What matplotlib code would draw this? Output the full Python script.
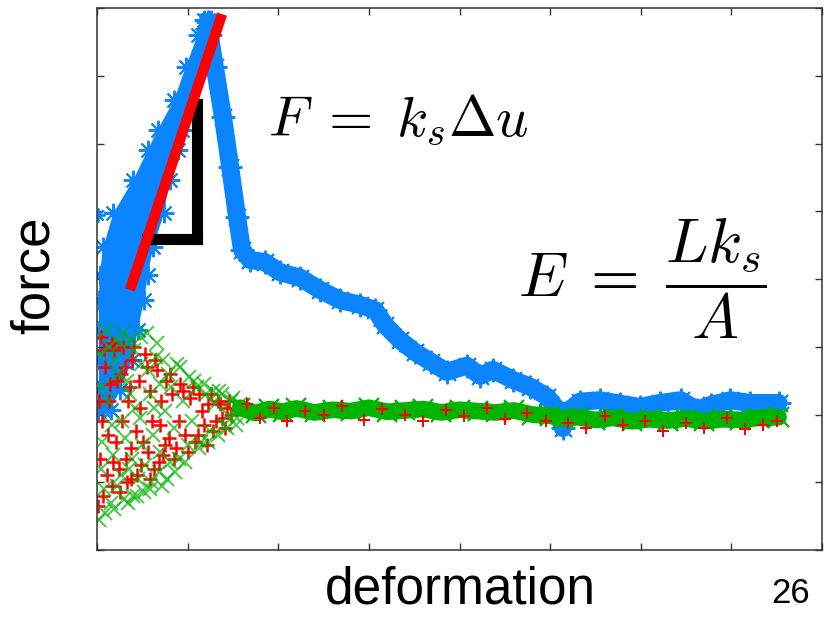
import matplotlib
matplotlib.use('Agg')
import matplotlib.pyplot as plt

plt.rcParams['mathtext.fontset'] = 'cm'

# rising part of the first curve: height levels and the left / middle / right edge of the cloud
rise_y = [7.82, 7.60, 7.13, 6.64, 6.20, 5.90, 5.46, 4.97, 4.47, 4.06, 3.69, 3.25, 2.80, 2.36, 2.07]
rise_left = [1.18, 1.11, 0.98, 0.85, 0.67, 0.56, 0.40, 0.18, 0.07, 0.03, 0.02, 0.02, 0.02, 0.02, 0.01]
rise_mid = [1.22, 1.16, 1.07, 0.94, 0.80, 0.72, 0.60, 0.46, 0.34, 0.29, 0.27, 0.23, 0.20, 0.13, 0.07]
rise_right = [1.26, 1.27, 1.18, 1.03, 0.94, 0.89, 0.80, 0.74, 0.62, 0.56, 0.52, 0.45, 0.39, 0.25, 0.15]
stray_x = [0.01]
stray_y = [4.94]

# after the peak
fall_x = [1.22, 1.30, 1.39, 1.47, 1.545, 1.60, 1.69, 1.85, 2.02, 2.24, 2.46, 2.68, 2.90,
          3.07, 3.18, 3.34, 3.51, 3.68, 3.86, 4.08, 4.23, 4.37, 4.59, 4.78, 4.97, 5.08,
          5.14, 5.22, 5.33, 5.55, 5.77, 5.99, 6.21, 6.44, 6.62, 6.77, 6.99, 7.21, 7.52]
fall_y = [7.80, 7.13, 6.39, 5.65, 4.92, 4.43, 4.28, 4.25, 4.10, 4.02, 3.84, 3.69, 3.62,
          3.54, 3.32, 3.10, 2.92, 2.78, 2.63, 2.72, 2.57, 2.66, 2.51, 2.41, 2.26, 2.07,
          1.80, 2.07, 2.19, 2.21, 2.16, 2.11, 2.17, 2.21, 2.07, 2.14, 2.21, 2.17, 2.17]

# the two other series, scattered at the start
red_cone_x = [0.01, 0.04, 0.06, 0.09, 0.11, 0.14, 0.16, 0.19, 0.21, 0.24, 0.27, 0.29, 0.32, 0.34,
              0.37, 0.39, 0.43, 0.46, 0.49, 0.53, 0.56, 0.59, 0.63, 0.66, 0.69, 0.73, 0.76, 0.79,
              0.83, 0.87, 0.92, 0.97, 1.03, 1.08, 1.13, 1.18, 1.23, 1.28, 1.33, 1.38, 1.43, 1.48,
              0.02, 0.03, 0.07, 0.08, 0.12, 0.13, 0.17, 0.18, 0.22, 0.25, 0.28, 0.31, 0.33, 0.36,
              0.38, 0.41, 0.44, 0.47, 0.51, 0.55, 0.58, 0.61, 0.64, 0.68, 0.71, 0.75, 0.81, 0.85,
              0.90, 0.95, 1.00, 1.06, 1.11, 1.16, 1.21, 1.26, 1.31, 1.36, 1.41, 1.46]
red_cone_y = [0.65, 3.15, 1.9, 2.7, 1.1, 2.45, 0.95, 2.95, 1.6, 1.2, 2.6, 3.0, 1.35, 2.2,
              1.05, 2.8, 1.75, 2.5, 1.25, 2.9, 1.45, 2.35, 1.2, 2.65, 1.85, 1.4, 2.5, 1.65,
              2.3, 1.5, 2.45, 1.7, 2.25, 1.6, 2.3, 1.85, 2.15, 1.75, 2.2, 1.95, 2.1, 2.0,
              2.2, 1.35, 0.8, 2.95, 1.7, 2.2, 3.05, 1.3, 2.5, 0.85, 1.9, 2.7, 1.0, 2.4,
              1.5, 3.0, 1.1, 2.1, 1.6, 2.7, 1.05, 1.9, 2.8, 1.3, 2.2, 1.55, 2.6, 1.35,
              1.9, 2.35, 1.45, 2.4, 1.7, 2.05, 1.55, 2.3, 1.9, 2.15, 1.8, 2.2]
green_cone_x = [0.02, 0.03, 0.05, 0.08, 0.10, 0.12, 0.15, 0.18, 0.20, 0.22, 0.25, 0.28, 0.30,
                0.33, 0.35, 0.38, 0.40, 0.42, 0.45, 0.48, 0.50, 0.52, 0.55, 0.58, 0.60, 0.62,
                0.65, 0.68, 0.70, 0.72, 0.75, 0.78, 0.80, 0.85, 0.88, 0.90, 0.95, 1.00, 1.02,
                1.05, 1.10, 1.15, 1.20, 1.25, 1.30, 1.35, 1.40, 1.45, 1.50, 1.55,
                0.04, 0.06, 0.09, 0.13, 0.16, 0.19, 0.23, 0.26, 0.29, 0.31, 0.34, 0.36, 0.39,
                0.41, 0.44, 0.47, 0.49, 0.53, 0.56, 0.59, 0.63, 0.66, 0.69, 0.73, 0.77, 0.82,
                0.86, 0.92, 0.97, 1.07, 1.12, 1.18, 1.22, 1.28, 1.33, 1.38, 1.43, 1.48, 1.53, 1.58]
green_cone_y = [0.45, 2.9, 1.6, 0.9, 3.25, 2.2, 0.7, 1.4, 2.8, 0.95, 3.05, 1.9, 0.75,
                2.5, 1.2, 3.1, 0.8, 2.1, 1.05, 2.75, 1.55, 0.85, 3.2, 2.3, 1.0, 1.7,
                2.85, 1.15, 2.45, 0.95, 2.05, 2.6, 1.3, 1.8, 2.75, 1.35, 2.2, 1.55, 2.55,
                1.9, 2.4, 1.6, 2.3, 1.75, 2.15, 2.35, 1.85, 2.0, 2.25, 1.95,
                1.2, 2.4, 0.55, 3.0, 1.85, 0.6, 2.6, 1.1, 3.2, 1.65, 0.7, 2.3, 1.35,
                2.95, 0.8, 1.95, 3.15, 1.25, 2.65, 0.9, 2.1, 3.05, 1.45, 2.8, 1.05, 2.4,
                1.15, 2.7, 1.3, 2.5, 1.5, 2.45, 1.6, 2.35, 1.7, 2.3, 1.8, 2.2, 1.85, 2.15]

# ... and settled afterwards
red_band_x = [1.65, 1.80, 1.95, 2.10, 2.30, 2.50, 2.70, 2.95, 3.15, 3.40, 3.60, 3.85, 4.05, 4.30,
              4.50, 4.75, 4.95, 5.20, 5.40, 5.60, 5.80, 6.05, 6.25, 6.50, 6.70, 6.95, 7.15, 7.35, 7.50]
red_band_y = [2.15, 1.95, 2.10, 1.90, 2.05, 2.00, 2.12, 1.92, 2.08, 2.00, 1.90, 2.06, 1.98, 2.10,
              1.94, 2.02, 1.90, 1.88, 1.80, 1.98, 1.85, 1.90, 1.75, 1.88, 1.80, 1.95, 1.78, 1.85, 1.90]
green_band_x = [1.58, 1.75, 1.90, 2.05, 2.20, 2.40, 2.60, 2.80, 3.00, 3.20, 3.40, 3.60, 3.80, 4.00,
                4.20, 4.40, 4.60, 4.80, 5.00, 5.15, 5.30, 5.50, 5.70, 5.90, 6.10, 6.30, 6.50, 6.70,
                6.90, 7.10, 7.30, 7.52]
green_band_y = [2.10, 2.02, 2.08, 2.04, 2.09, 2.03, 2.07, 2.05, 2.10, 2.04, 2.06, 2.08, 2.03, 2.07,
                2.05, 2.03, 2.06, 2.00, 1.98, 1.94, 1.96, 1.92, 1.95, 1.90, 1.93, 1.91, 1.94, 1.90,
                1.93, 1.92, 1.95, 1.96]

# stiffness fit and slope marker (left end, corner, top end)
fit_x = [0.364, 1.380]
fit_y = [3.84, 7.91]
slope_x = [0.552, 1.104, 1.104]
slope_y = [4.59, 4.59, 6.58]

BLUE = '#0a84ff'
RED = '#ff0000'
GREEN = '#00b400'
AST = (8, 2, 0)

fig = plt.figure(figsize=(8.3, 6.17), dpi=100, facecolor='white')
ax = fig.add_axes([97 / 830, 67 / 617, 725 / 830, 542 / 617])
ax.set_facecolor('white')

# blue series: the rising cloud as a polygon between its edges, fuzzed with markers
ax.fill(rise_left + rise_right[::-1], rise_y + rise_y[::-1], facecolor=BLUE, edgecolor='none')
for xs in (rise_left, rise_mid, rise_right):
    ax.plot(xs, rise_y, ls='none', marker=AST, ms=14, mew=1.4, color=BLUE)
ax.plot(stray_x, stray_y, ls='none', marker=AST, ms=10, mew=1.3, color=BLUE)
ax.plot(fall_x, fall_y, color=BLUE, lw=13, solid_joinstyle='round', solid_capstyle='round',
        marker=AST, ms=17, mew=1.4)

# red and green series
ax.plot(red_cone_x, red_cone_y, ls='none', marker='+', ms=10, mew=1.8, color=RED)
ax.plot(green_cone_x, green_cone_y, ls='none', marker='x', ms=10, mew=1.4, color=GREEN, alpha=0.7)
ax.plot(green_band_x, green_band_y, color=GREEN, lw=12, marker='x', ms=15, mew=1.6,
        solid_capstyle='round')
ax.plot(red_band_x, red_band_y, ls='none', marker='+', ms=8, mew=1.4, color=RED)

# fit line and slope marker
ax.plot(slope_x[:2], slope_y[:2], color='black', lw=8, solid_capstyle='projecting')
ax.plot(slope_x[1:], slope_y[1:], color='black', lw=8, solid_capstyle='projecting')
ax.plot(fit_x, fit_y, color=RED, lw=7.5, solid_capstyle='butt')

ax.set_xlim(0, 8)
ax.set_ylim(0, 8)
ax.set_xticks(range(9))
ax.set_yticks(range(9))
ax.set_xticklabels([])
ax.set_yticklabels([])
ax.tick_params(direction='in', length=5, width=1, color='#333333', top=True, right=True)
for s in ax.spines.values():
    s.set_color('#333333')
    s.set_linewidth(1.1)

# equations
fig.text(268 / 830, (617 - 135) / 617, r'$F\;=\;k_s \Delta u$', fontsize=41, va='baseline', ha='left')
fig.text(518 / 830, (617 - 279) / 617, r'$E\;=\;\dfrac{Lk_s}{A}$', fontsize=45, va='center', ha='left')

# labels
sans = ['Liberation Sans', 'DejaVu Sans']
fig.text(35 / 830, (617 - 275) / 617, 'force', rotation=90, fontsize=38, family=sans,
         ha='center', va='center')
fig.text(460 / 830, 2 / 617, 'deformation', fontsize=37, family=sans,
         ha='center', va='bottom')
fig.text(791 / 830, (617 - 603) / 617, '26', fontsize=25, family=sans, ha='center', va='baseline')

fig.savefig('out.png', dpi=100)
